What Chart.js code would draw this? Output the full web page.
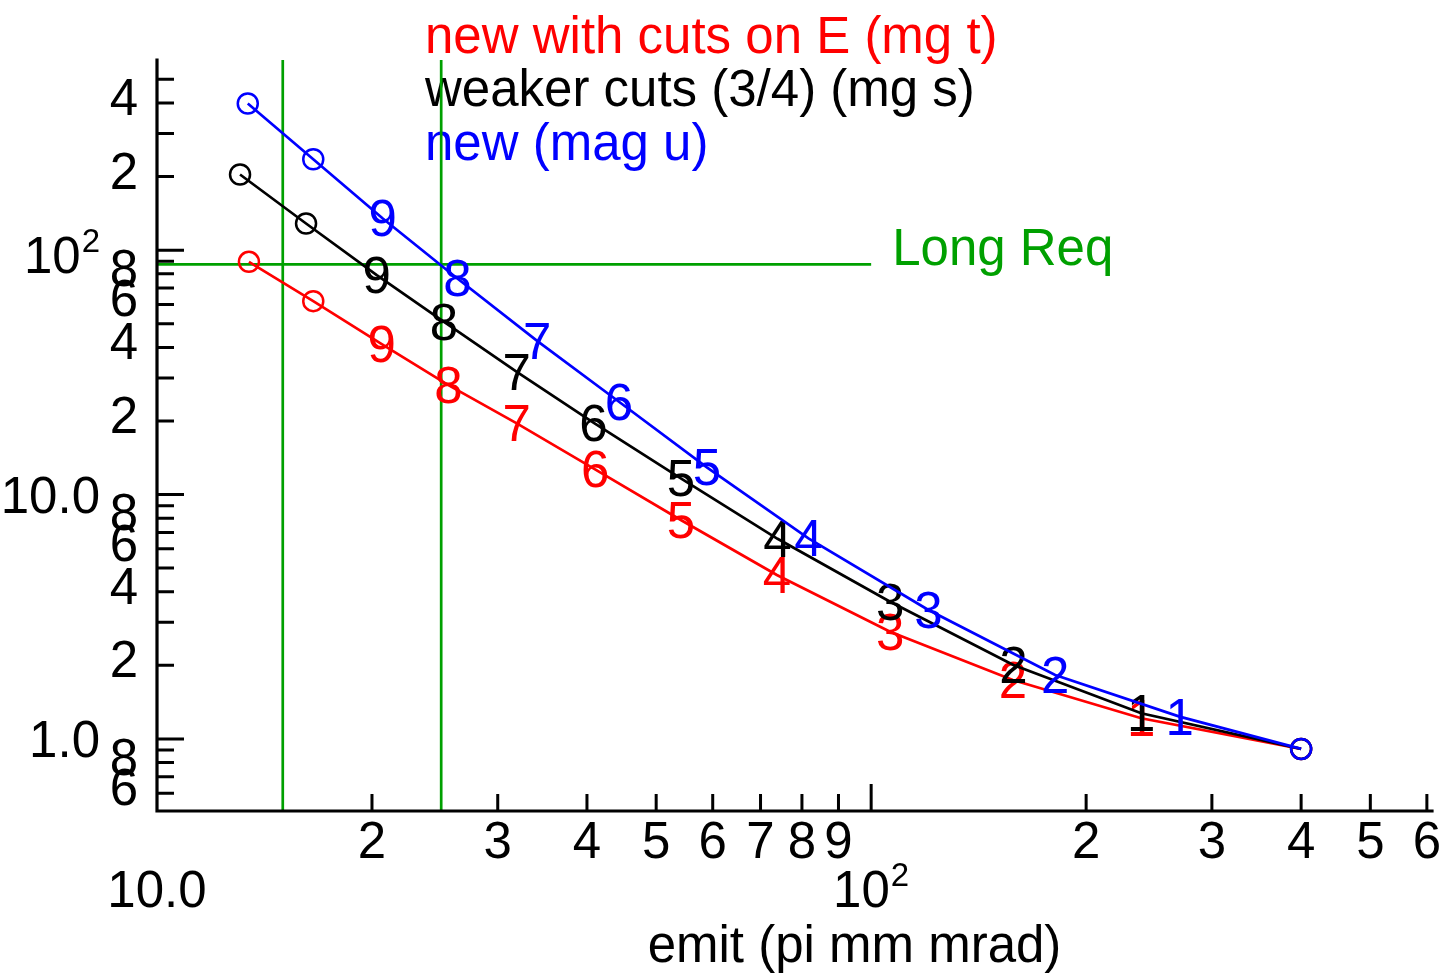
<!DOCTYPE html>
<html>
<head>
<meta charset="utf-8">
<script src="https://cdn.jsdelivr.net/npm/chart.js@4.4.1/dist/chart.umd.min.js"></script>
<style>
html,body{margin:0;padding:0;background:#fff;}
#wrap{width:1449px;height:980px;position:relative;}
</style>
</head>
<body>
<div id="wrap"><canvas id="c"></canvas></div>
<script>
// ---------- data ----------
const xTitle = 'emit (pi mm mrad)';
const seriesNames = ['new with cuts on E (mg t)', 'weaker cuts (3/4) (mg s)', 'new (mag u)'];
const markerLabels = ['o','o','9','8','7','6','5','4','3','2','1','o'];

const redX   = [13.45, 16.55, 20.64, 25.59, 31.90, 41.06, 54.14, 73.79, 106.3, 157.9, 238.9, 400];
const redY   = [89.6, 61.85, 41.26, 28.05, 19.55, 12.68, 7.865, 4.687, 2.747, 1.743, 1.215, 0.91];
const blackX = [13.07, 16.17, 20.31, 25.23, 31.90, 40.84, 54.14, 73.95, 106.3, 158.2, 238.9, 400];
const blackY = [204.0, 128.6, 79.03, 50.89, 31.78, 19.70, 11.65, 6.59, 3.643, 2.007, 1.274, 0.91];
const blueX  = [13.40, 16.55, 20.71, 26.34, 34.06, 44.35, 58.88, 81.70, 120.3, 181.0, 270.3, 400];
const blueY  = [398.1, 235.6, 134.8, 76.6, 42.56, 23.97, 12.92, 6.62, 3.37, 1.827, 1.234, 0.91];

const reqLabel = 'Long Req';
const reqEmitX = [15, 25];
const reqLongY = 87.4;
const reqLongXEnd = 100;

const xRange = [10, 610];
const yRange = [0.507, 600];

const xMinorTicks = [20,30,40,50,60,70,80,90,200,300,400,500,600];
const xMinorLabels = ['2','3','4','5','6','7','8','9','2','3','4','5','6'];
const xMajorTicks = [10, 100];
const xMajorLabels = ['10.0', '10^2'];

const yMinorTicks = [0.6,0.7,0.8,0.9,2,3,4,5,6,7,8,9,20,30,40,50,60,70,80,90,200,300,400,500];
const yMinorLabelValues = [0.6,0.8,2,4,6,8,20,40,60,80,200,400];
const yMinorLabels = ['6','8','2','4','6','8','2','4','6','8','2','4'];
const yMajorTicks = [1, 10, 100];
const yMajorLabels = ['1.0', '10.0', '10^2'];

// ---------- styling ----------
const FONT = '"Liberation Sans", Arial, sans-serif';
const FS = 51;
const SUP = 33;
const RED = '#ff0000', BLACK = '#000000', BLUE = '#0000ff', GREEN = '#00a000';

function pts(xs, ys){ return xs.map((x,i)=>({x:x, y:ys[i]})); }
function radii(){ return markerLabels.map(m => m === 'o' ? 10 : 0); }

function seriesDataset(name, xs, ys, color){
  return {
    label: name, data: pts(xs, ys), borderColor: color, backgroundColor: 'rgba(0,0,0,0)',
    borderWidth: 2.7, pointRadius: radii(), pointHoverRadius: radii(), pointBorderWidth: 2.5,
    pointBorderColor: color, pointBackgroundColor: 'rgba(0,0,0,0)', pointStyle: 'circle',
    tension: 0, clip: false, markerText: markerLabels, markerColor: color
  };
}
function greenDataset(data){
  return { label: '', data: data, borderColor: GREEN, borderWidth: 2.7, pointRadius: 0,
           pointHoverRadius: 0, clip: false, tension: 0, markerText: null };
}

const datasets = [
  seriesDataset(seriesNames[2], blueX, blueY, BLUE),
  seriesDataset(seriesNames[1], blackX, blackY, BLACK),
  seriesDataset(seriesNames[0], redX, redY, RED),
  greenDataset([{x: reqEmitX[0], y: yRange[0]}, {x: reqEmitX[0], y: yRange[1]}]),
  greenDataset([{x: reqEmitX[1], y: yRange[0]}, {x: reqEmitX[1], y: yRange[1]}]),
  greenDataset([{x: xRange[0], y: reqLongY}, {x: reqLongXEnd, y: reqLongY}])
];

function labelWidth(ctx, text){
  const parts = text.split('^');
  ctx.font = FS + 'px ' + FONT;
  let w = ctx.measureText(parts[0]).width;
  if (parts.length > 1){ ctx.font = SUP + 'px ' + FONT; w += 1 + ctx.measureText(parts[1]).width; }
  return w;
}
function drawLabel(ctx, text, x, y, align){
  const parts = text.split('^');
  const w = labelWidth(ctx, text);
  let sx = align === 'right' ? x - w : (align === 'center' ? x - w/2 : x);
  ctx.textAlign = 'left';
  ctx.textBaseline = 'alphabetic';
  ctx.font = FS + 'px ' + FONT;
  ctx.fillText(parts[0], sx, y);
  if (parts.length > 1){
    const bw = ctx.measureText(parts[0]).width;
    ctx.font = SUP + 'px ' + FONT;
    ctx.fillText(parts[1], sx + bw + 1, y - 21);
  }
}

const overlay = {
  id: 'overlay',
  beforeDatasetsDraw(chart){
    const ctx = chart.ctx;
    ctx.save();
    const colors = [RED, BLACK, BLUE];
    const baselines = [53, 106, 160];
    ctx.font = FS + 'px ' + FONT;
    ctx.textAlign = 'left'; ctx.textBaseline = 'alphabetic';
    seriesNames.forEach((n, i) => { ctx.fillStyle = colors[i]; ctx.fillText(n, 425, baselines[i]); });
    ctx.restore();
  },
  afterDatasetDraw(chart, args){
    const ds = chart.data.datasets[args.index];
    if (!ds.markerText) return;
    const ctx = chart.ctx;
    ctx.save();
    ctx.fillStyle = ds.markerColor;
    ctx.font = FS + 'px ' + FONT;
    ctx.textAlign = 'center'; ctx.textBaseline = 'alphabetic';
    args.meta.data.forEach((el, i) => {
      const t = ds.markerText[i];
      if (t === 'o') return;
      ctx.fillText(t, el.x, el.y + 18);
    });
    ctx.restore();
  },
  afterDatasetsDraw(chart){
    const ctx = chart.ctx;
    const xs = chart.scales.x, ys = chart.scales.y;
    const a = chart.chartArea;
    ctx.save();
    // Long Req label
    ctx.fillStyle = GREEN;
    ctx.font = FS + 'px ' + FONT;
    ctx.textAlign = 'left'; ctx.textBaseline = 'alphabetic';
    ctx.fillText(reqLabel, xs.getPixelForValue(reqLongXEnd) + 21, ys.getPixelForValue(reqLongY) + 1);

    // axes
    ctx.strokeStyle = '#000'; ctx.lineWidth = 3.2; ctx.lineCap = 'square';
    ctx.beginPath();
    ctx.moveTo(a.left, a.top); ctx.lineTo(a.left, a.bottom); ctx.lineTo(a.right, a.bottom);
    ctx.stroke();
    ctx.lineCap = 'butt';
    ctx.lineWidth = 3;
    ctx.beginPath();
    xMinorTicks.forEach(v => { const p = xs.getPixelForValue(v); ctx.moveTo(p, a.bottom); ctx.lineTo(p, a.bottom - 17); });
    xMajorTicks.forEach(v => { if (v <= xRange[0]) return; const p = xs.getPixelForValue(v); ctx.moveTo(p, a.bottom); ctx.lineTo(p, a.bottom - 27); });
    yMinorTicks.forEach(v => { const p = ys.getPixelForValue(v); ctx.moveTo(a.left, p); ctx.lineTo(a.left + 17, p); });
    yMajorTicks.forEach(v => { const p = ys.getPixelForValue(v); ctx.moveTo(a.left, p); ctx.lineTo(a.left + 27, p); });
    ctx.stroke();

    // tick labels
    ctx.fillStyle = '#000';
    xMinorTicks.forEach((v, i) => drawLabel(ctx, xMinorLabels[i], xs.getPixelForValue(v), a.bottom + 47, 'center'));
    xMajorTicks.forEach((v, i) => drawLabel(ctx, xMajorLabels[i], xs.getPixelForValue(v), a.bottom + 96, 'center'));
    yMinorLabelValues.forEach((v, i) => drawLabel(ctx, yMinorLabels[i], a.left - 19, ys.getPixelForValue(v) + 12, 'right'));
    yMajorTicks.forEach((v, i) => {
      const lab = yMajorLabels[i];
      drawLabel(ctx, lab, a.left - 57, ys.getPixelForValue(v) + (lab.indexOf('^') >= 0 ? 23 : 18), 'right');
    });

    // axis title
    ctx.font = FS + 'px ' + FONT;
    ctx.textAlign = 'center';
    ctx.fillText(xTitle, (a.left + a.right) / 2 + 60, 962);
    ctx.restore();
  }
};

new Chart(document.getElementById('c'), {
  type: 'line',
  data: { datasets: datasets },
  options: {
    responsive: true, maintainAspectRatio: false, animation: false,
    layout: { padding: { left: 157, right: 17, top: 60, bottom: 169 } },
    plugins: { legend: { display: false }, tooltip: { enabled: false } },
    scales: {
      x: { type: 'logarithmic', min: xRange[0], max: xRange[1], display: false },
      y: { type: 'logarithmic', min: yRange[0], max: yRange[1], display: false }
    }
  },
  plugins: [overlay]
});
</script>
</body>
</html>
